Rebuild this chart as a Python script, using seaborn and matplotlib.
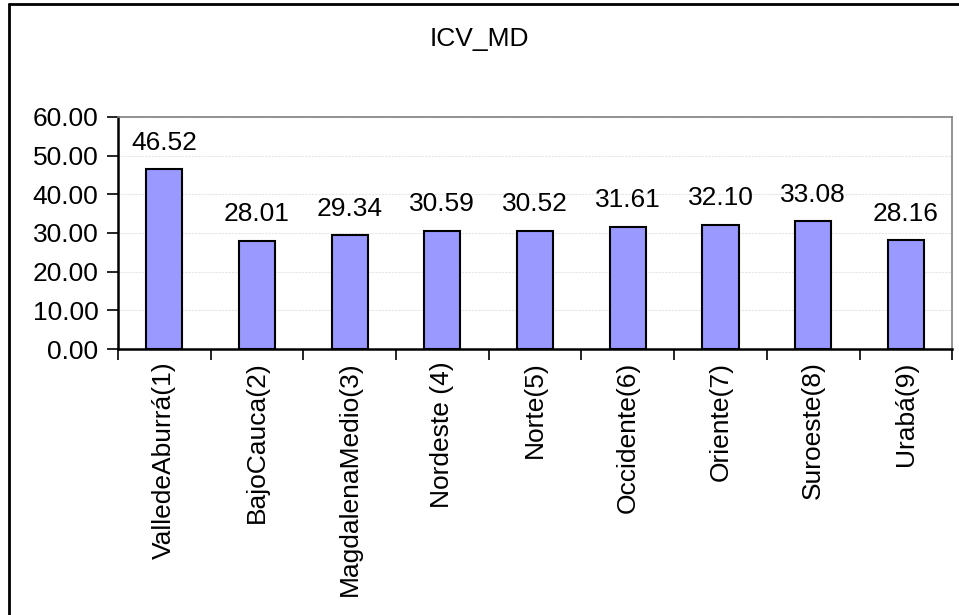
import matplotlib
matplotlib.use("Agg")
import matplotlib.pyplot as plt
import seaborn as sns
import pandas as pd
from matplotlib.lines import Line2D

# Chart data
regions = ["ValledeAburrá(1)", "BajoCauca(2)", "MagdalenaMedio(3)", "Nordeste (4)",
           "Norte(5)", "Occidente(6)", "Oriente(7)", "Suroeste(8)", "Urabá(9)"]
icv_md = [46.52, 28.01, 29.34, 30.59, 30.52, 31.61, 32.10, 33.08, 28.16]
y_ticks = [0, 10, 20, 30, 40, 50, 60]

df = pd.DataFrame({"region": regions, "icv": icv_md})

sns.set_style("white")
plt.rcParams["font.family"] = ["Liberation Sans", "DejaVu Sans"]
plt.rcParams["text.color"] = "black"
plt.rcParams["xtick.color"] = "black"
plt.rcParams["ytick.color"] = "black"
FS = 19

fig = plt.figure(figsize=(9.59, 6.15), dpi=100)
ax = fig.add_axes([0.123, 0.4325, 0.870, 0.3775])

sns.barplot(data=df, x="region", y="icv", color="#9999FF", edgecolor="black",
            linewidth=1.5, width=0.39, saturation=1, ax=ax)

# value labels above bars
for i, v in enumerate(icv_md):
    ax.annotate(f"{v:.2f}", (i, v), xytext=(0, 14), textcoords="offset points",
                ha="center", va="baseline", fontsize=FS, color="black")

ax.set_ylim(0, 60)
ax.set_xlim(-0.5, len(regions) - 0.5)
ax.set_yticks(y_ticks)
ax.set_yticklabels([f"{t:.2f}" for t in y_ticks], fontsize=FS)
ax.tick_params(axis="y", direction="out", length=8, width=1.2, color="black",
               labelcolor="black", pad=6, left=True)

# labels at category centres, tick marks at category boundaries
ax.set_xticks(range(len(regions)))
ax.set_xticklabels(regions, rotation=90, ha="center", va="top", fontsize=FS)
ax.tick_params(axis="x", which="major", length=0, pad=9, labelcolor="black")
ax.set_xticks([i - 0.5 for i in range(len(regions) + 1)], minor=True)
ax.tick_params(axis="x", which="minor", direction="out", length=8, width=1.2,
               color="black", bottom=True)

ax.set_xlabel("")
ax.set_ylabel("")

ax.yaxis.grid(True, color="#e6e6e6", linestyle=(0, (2, 1)), linewidth=0.8)
ax.set_axisbelow(True)

for side in ["top", "right"]:
    ax.spines[side].set_color("#808080")
    ax.spines[side].set_linewidth(1.2)
for side in ["left", "bottom"]:
    ax.spines[side].set_color("black")
    ax.spines[side].set_linewidth(1.8)

fig.text(0.5, 0.937, "ICV_MD", ha="center", va="center", fontsize=FS, color="black")

# outer chart frame (top and left edges visible)
fig.add_artist(Line2D([0.0097, 1.0], [0.9935, 0.9935], color="black", linewidth=2,
                      transform=fig.transFigure))
fig.add_artist(Line2D([0.0097, 0.0097], [0.0, 0.9935], color="black", linewidth=2,
                      transform=fig.transFigure))

fig.savefig("out.png", dpi=100)
plt.close(fig)
